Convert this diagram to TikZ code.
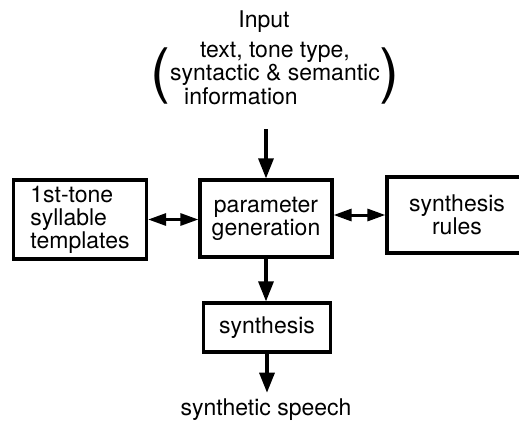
\documentclass[tikz,border=0pt]{standalone}
\usepackage{fontspec}
\setmainfont{TeX Gyre Heros}
\usetikzlibrary{arrows.meta}

\begin{document}
\begin{tikzpicture}[x=0.5pt, y=-0.5pt,
  every node/.style={font=\fontsize{11.5}{11.5}\selectfont, inner sep=0pt},
  blk/.style={draw, line width=1.6pt, align=center},
  arr/.style={line width=1.6pt, -{Triangle[length=10pt,width=7.5pt]}},
  dbl/.style={line width=1.5pt, {Triangle[length=9pt,width=6pt]}-{Triangle[length=9pt,width=6pt]}}]
  \useasboundingbox (0,0) rectangle (519,424);
  \node (input) at (264,22) {Input};
  \node (info) at (275,76) {\raisebox{-4.5pt}{\fontsize{30}{30}\selectfont(}\begin{tabular}{@{}c@{}}text, tone type,\\ syntactic \& semantic\\ information\hspace*{34pt}\end{tabular}\raisebox{-4.5pt}{\fontsize{30}{30}\selectfont)}};
  \node[blk, minimum width=66pt, minimum height=38.5pt] (param) at (266,218.5) {parameter\\generation};
  \node[blk, minimum width=66.5pt, minimum height=39.5pt, align=left] (tmpl) at (80,219.5) {1st-tone\\syllable\\templates};
  \node[blk, minimum width=70pt, minimum height=38pt] (rules) at (457,215) {synthesis\\rules};
  \node[blk, minimum width=63.5pt, minimum height=24.5pt] (synth) at (267,327.5) {synthesis};
  \node (speech) at (266,410) {synthetic speech};
  \draw[arr] ([yshift=-9pt]info.south -| param.north) -- (param.north);
  \draw[dbl] (tmpl.east) -- (tmpl.east -| param.west);
  \draw[dbl] (param.east |- rules.west) -- (rules.west);
  \draw[arr] (param.south) -- (param.south |- synth.north);
  \draw[arr] (synth.south) -- ([yshift=3pt]synth.south |- speech.north);
\end{tikzpicture}
\end{document}
